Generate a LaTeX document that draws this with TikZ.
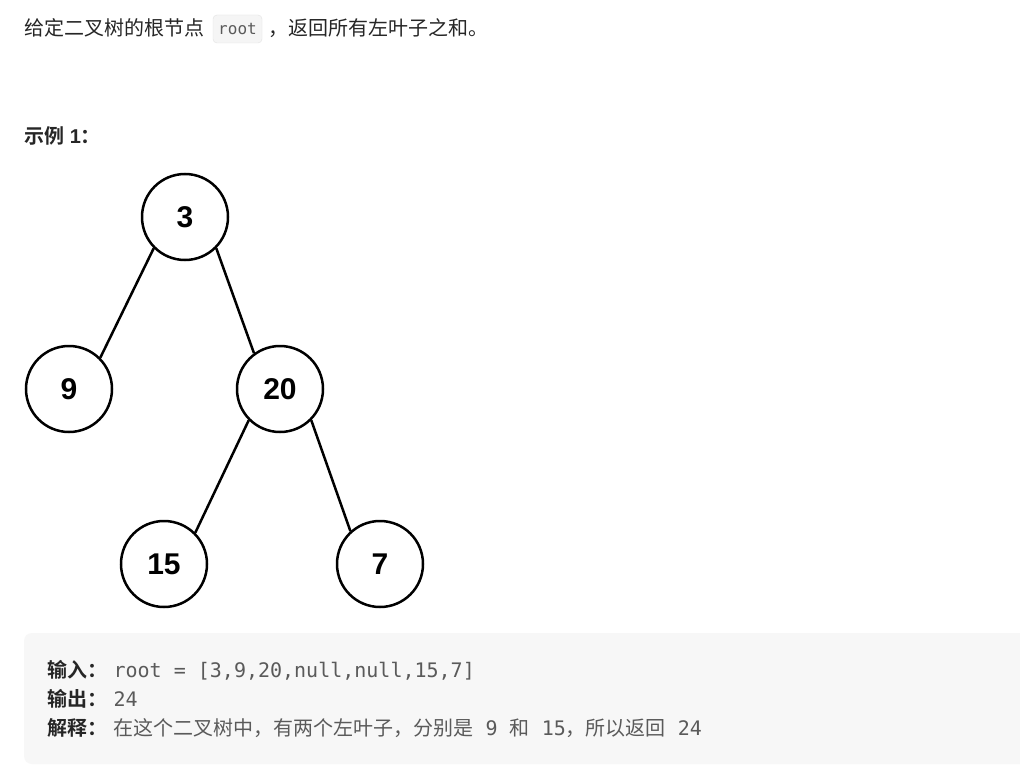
\documentclass[tikz,border=0pt]{standalone}
\usepackage{fontspec}
\setmainfont{Liberation Sans}
\newfontfamily\cjk[BoldFont={Noto Sans CJK SC Bold}]{Noto Sans CJK SC}
\newfontfamily\mono{DejaVu Sans Mono}
\usetikzlibrary{positioning}
\definecolor{ink}{HTML}{262626}
\definecolor{grey}{HTML}{5A5A5A}
\definecolor{boxbg}{HTML}{F7F7F7}
\definecolor{codebg}{HTML}{F5F5F5}
\definecolor{codeline}{HTML}{E3E3E3}
\begin{document}
\begin{tikzpicture}[x=1pt, y=1pt,
	main/.style = {draw, circle, line width=2.5pt, minimum size=86pt, inner sep=0pt, font=\fontsize{30}{30}\selectfont\bfseries},
	branch/.style = {line width=2.5pt},
	txt/.style = {anchor=base west, inner sep=0pt, text=ink, font=\fontsize{20}{24}\selectfont\cjk},
	lab/.style = {txt, font=\fontsize{20}{24}\selectfont\cjk\bfseries},
	val/.style = {anchor=base west, inner sep=0pt, text=grey, font=\fontsize{20}{24}\selectfont\mono}]
		\useasboundingbox (0,0) rectangle (1020,-765);
		\clip (0,0) rectangle (1020,-765);
		\fill[white] (0,0) rectangle (1020,-765);
		% Teksti
		\node[txt] (intro) at (24,-36) {给定二叉树的根节点};
		\node[draw=codeline, fill=codebg, rounded corners=4pt, minimum width=49pt, minimum height=28pt, inner sep=0pt, text=grey, font=\fontsize{16}{16}\selectfont\mono] (code) at (237.5,-29) {root};
		\node[txt] (rest) at (268,-36) {，返回所有左叶子之和。};
		\node[txt, font=\fontsize{20}{24}\selectfont\bfseries] (ex) at (24,-143) {{\cjk 示例} 1{\cjk ：}};
		% Solmut
		\node[main] (n3) at (185,-217) {3};
		\node[main] (n9) at (69,-389) {9};
		\node[main] (n20) at (280,-389) {20};
		\node[main] (n15) at (164,-564) {15};
		\node[main] (n7) at (380,-564) {7};
		% Kaaret
		\draw[branch] (n3.225) -- (n9.45);	% 3-9
		\draw[branch] (n3.315) -- (n20.126);	% 3-20
		\draw[branch] (n20.225) -- (n15.45);	% 20-15
		\draw[branch] (n20.315) -- (n7.132);	% 20-7
		% Laatikko
		\fill[boxbg, rounded corners=8pt] (24,-633) rectangle (1040,-764);
		\node[lab] (inlab) at (47,-677) {输入：};
		\node[val, base right=6pt of inlab] (inval) {root = [3,9,20,null,null,15,7]};
		\node[lab] (outlab) at (47,-706) {输出：};
		\node[val, base right=6pt of outlab] (outval) {24};
		\node[lab] (exlab) at (47,-735) {解释：};
		\node[val, base right=6pt of exlab] (exval) {{\cjk 在这个二叉树中，有两个左叶子，分别是} 9 {\cjk 和} 15{\cjk ，所以返回} 24};
\end{tikzpicture}
\end{document}
